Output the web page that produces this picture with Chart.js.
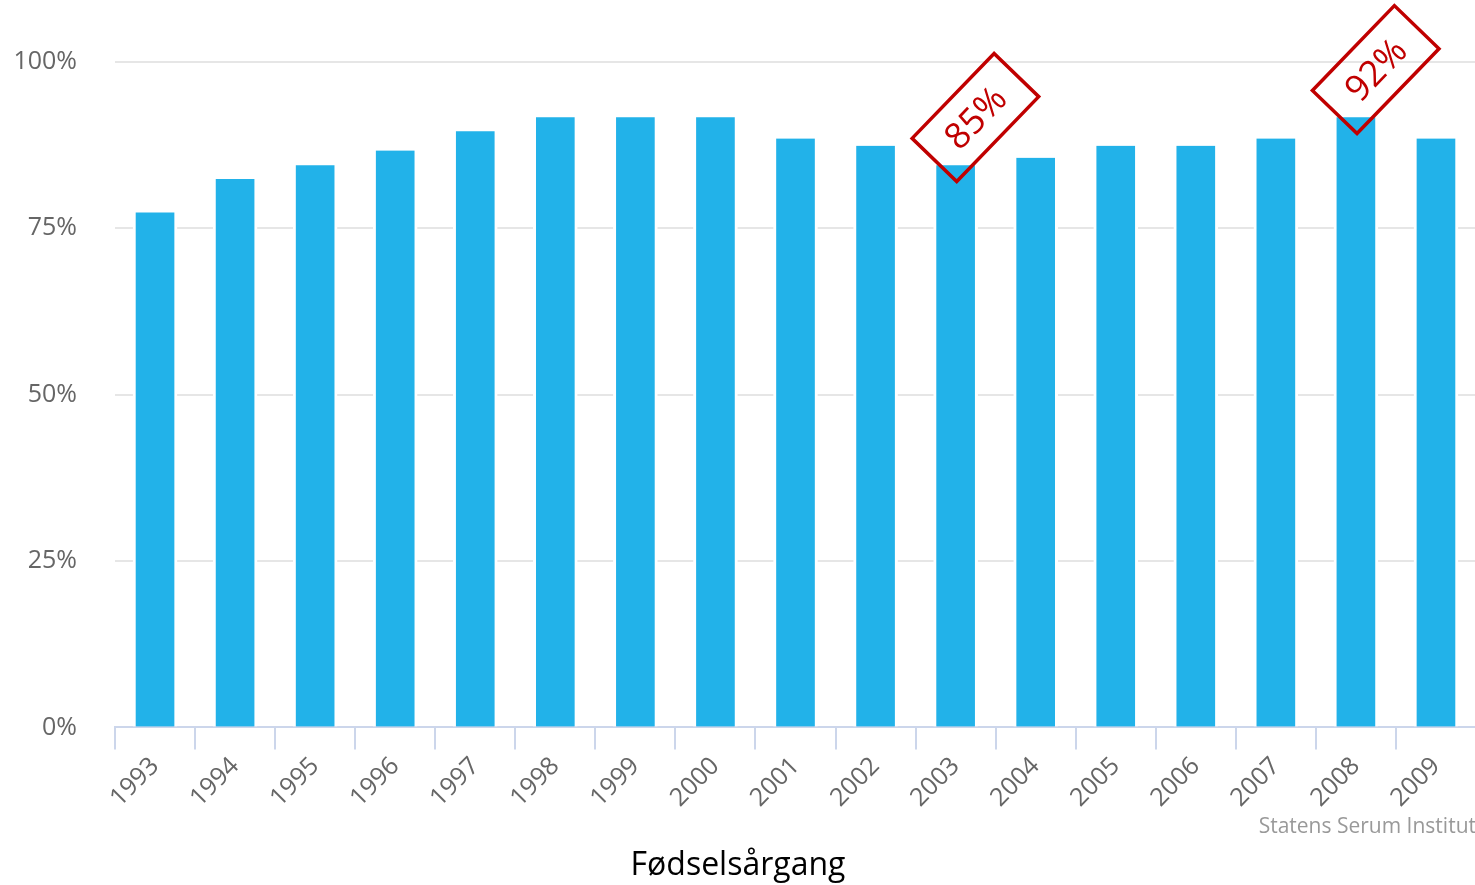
<!DOCTYPE html>
<html>
<head>
<meta charset="utf-8">
<script src="https://cdn.jsdelivr.net/npm/chart.js@4"></script>
<style>
  html, body { margin: 0; padding: 0; background: #fff; overflow: hidden; }
  #wrap { position: relative; width: 1480px; height: 885px; }
</style>
</head>
<body>
<div id="wrap"><canvas id="vacChart" width="1480" height="885"></canvas></div>
<script>
// fødselsårgang og andel (%)
const years = ["1993", "1994", "1995", "1996", "1997", "1998", "1999", "2000", "2001",
               "2002", "2003", "2004", "2005", "2006", "2007", "2008", "2009"];
const coverage = [77.4, 82.4, 84.5, 86.7, 89.6, 91.7, 91.7, 91.7, 88.5,
                  87.4, 84.5, 85.6, 87.4, 87.4, 88.5, 91.7, 88.5];
const yTicks = [0, 25, 50, 75, 100];

// markerede år med rød boks
const highlightYears = ["2003", "2008"];
const highlightLabels = ["85%", "92%"];

const boxPlugin = {
    id: "boxes",
    afterDatasetsDraw(chart) {
        const ctx = chart.ctx;
        const meta = chart.getDatasetMeta(0);
        const ang = -46 * Math.PI / 180;
        const w = 118, h = 62;

        highlightYears.forEach((yr, k) => {
            const i = years.indexOf(yr);
            const bar = meta.data[i];
            // nederste hjørne lidt under søjlens top
            const bx = bar.x, by = bar.y + 16;
            const cx = bx + 0.707 * (w / 2 - h / 2);
            const cy = by - 0.707 * (w / 2 + h / 2);

            ctx.save();
            ctx.translate(cx, cy);
            ctx.rotate(ang);
            ctx.strokeStyle = "#c00000";
            ctx.lineWidth = 3.5;
            ctx.strokeRect(-w / 2, -h / 2, w, h);
            ctx.fillStyle = "#c00000";
            ctx.font = "36px 'Open Sans'";
            ctx.textAlign = "center";
            ctx.textBaseline = "middle";
            ctx.fillText(highlightLabels[k], 0, 2);
            ctx.restore();
        });
    }
};

const ctx = document.getElementById("vacChart");

new Chart(ctx, {
    type: "bar",
    data: {
        labels: years,
        datasets: [
            {
                data: coverage,
                backgroundColor: "#22b2e9",
                borderColor: "#ffffff",
                borderWidth: { left: 3, right: 3, top: 0, bottom: 0 },
                borderSkipped: "start",
                barThickness: 44
            }
        ]
    },
    options: {
        responsive: false,
        animation: false,
        layout: {
            padding: { top: 62, right: 4, left: 0, bottom: 0 }
        },
        plugins: {
            legend: { display: false },
            tooltip: { enabled: false },
            subtitle: {
                display: true,
                position: "bottom",
                align: "end",
                text: "Statens Serum Institut",
                color: "#999999",
                font: { family: "'Open Sans'", size: 21 },
                padding: { top: 2, bottom: 6 }
            },
            title: {
                display: true,
                position: "bottom",
                text: "Fødselsårgang",
                color: "#000000",
                font: { family: "'Open Sans'", size: 32, weight: "normal" },
                padding: { top: 1, bottom: 0 }
            }
        },
        scales: {
            x: {
                afterFit: s => { s.height = 85; },
                grid: {
                    display: true,
                    drawOnChartArea: false,
                    drawTicks: true,
                    tickLength: 22,
                    color: "#ccd6eb",
                    lineWidth: 2
                },
                border: { color: "#ccd6eb", width: 2 },
                ticks: {
                    color: "#666666",
                    font: { family: "'Open Sans'", size: 25 },
                    minRotation: 45,
                    maxRotation: 45,
                    autoSkip: false,
                    padding: 2
                }
            },
            y: {
                min: 0,
                max: 100,
                afterFit: s => { s.width = 115; },
                afterBuildTicks: s => { s.ticks = yTicks.map(v => ({ value: v })); },
                grid: {
                    color: "#e6e6e6",
                    lineWidth: 2,
                    drawTicks: false
                },
                border: { display: false },
                ticks: {
                    color: "#666666",
                    font: { family: "'Open Sans'", size: 25 },
                    padding: 38,
                    callback: v => v + "%"
                }
            }
        }
    },
    plugins: [boxPlugin]
});
</script>
</body>
</html>
